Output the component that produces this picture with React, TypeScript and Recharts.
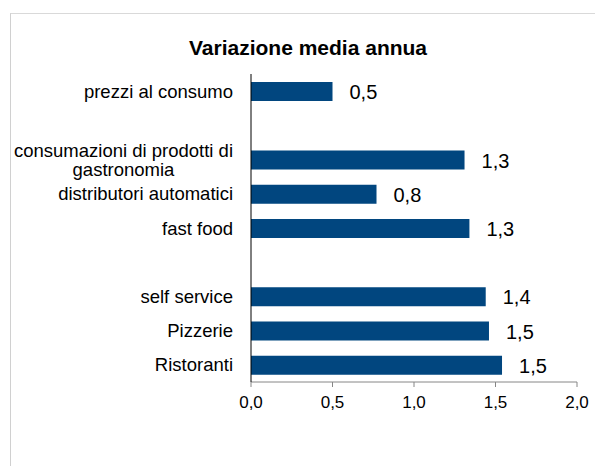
import React from 'react';
import { BarChart, Bar, XAxis, YAxis, LabelList } from 'recharts';

const categories = [
  'prezzi al consumo',
  '',
  'consumazioni di prodotti di\ngastronomia',
  'distributori automatici',
  'fast food',
  ' ',
  'self service',
  'Pizzerie',
  'Ristoranti',
];
const values = [0.5, null, 1.31, 0.77, 1.34, null, 1.44, 1.46, 1.54];
const xTicks = [0, 0.5, 1, 1.5, 2];
const boundaryTicks = [0, 1, 2, 3, 4, 5, 6, 7, 8, 9];

const FONT = '"Liberation Sans", Arial, sans-serif';
const BAR_COLOR = '#01467f';
const CAT_SIZE = 18.5;

const data = categories.map((name, i) => ({ name, value: values[i] }));

const fmt = (v: number) => v.toFixed(1).replace('.', ',');

let ctx: CanvasRenderingContext2D | null = null;
const measure = (s: string, size: number) => {
  if (!ctx) ctx = document.createElement('canvas').getContext('2d');
  if (!ctx) return s.length * size * 0.5;
  ctx.font = `${size}px ${FONT}`;
  return ctx.measureText(s).width;
};

const CategoryTick = (props: any) => {
  const { x, y, payload } = props;
  const lines = String(payload.value).split('\n');
  if (lines.length === 1) {
    return (
      <text x={x} y={y} dy="0.355em" textAnchor="end" fontSize={CAT_SIZE} fontFamily={FONT} fill="#000">
        {lines[0]}
      </text>
    );
  }
  // multi-line labels: block right aligned, lines centred
  const w = Math.max(...lines.map((l) => measure(l, CAT_SIZE)));
  const cx = x - w / 2;
  const lh = 19;
  const start = y - ((lines.length - 1) * lh) / 2;
  return (
    <text textAnchor="middle" fontSize={CAT_SIZE} fontFamily={FONT} fill="#000">
      {lines.map((l, i) => (
        <tspan key={i} x={cx} y={start + i * lh} dy="0.355em">
          {l}
        </tspan>
      ))}
    </text>
  );
};

const XTick = (props: any) => {
  const { x, y, payload } = props;
  return (
    <text x={x} y={y} dy="0.71em" textAnchor="middle" fontSize={17} fontFamily={FONT} fill="#000">
      {fmt(payload.value)}
    </text>
  );
};

const ValueLabel = (props: any) => {
  const { x, y, width, height, value } = props;
  if (value == null) return null;
  return (
    <text x={x + width + 17} y={y + height / 2} dy="0.38em" fontSize={20} fontFamily={FONT} fill="#000">
      {fmt(value)}
    </text>
  );
};

export default function App() {
  // fixed so the chart can reach the right edge of the window
  return (
    <div style={{ position: 'fixed', left: 8, top: 8, width: 587, height: 458, fontFamily: FONT, background: '#fff' }}>
      <div
        style={{
          position: 'absolute',
          left: 2,
          top: 5,
          width: 585,
          height: 453,
          boxSizing: 'border-box',
          borderTop: '1px solid #d9d9d9',
          borderLeft: '1px solid #d0d0d0',
        }}
      />
      <div
        style={{
          position: 'absolute',
          left: 16,
          top: 30,
          width: 568,
          textAlign: 'center',
          fontSize: 21,
          lineHeight: '20px',
          fontWeight: 'bold',
          color: '#000',
        }}
      >
        Variazione media annua
      </div>
      <BarChart
        width={587}
        height={458}
        data={data}
        layout="vertical"
        margin={{ top: 66, right: 18, bottom: 54, left: 0 }}
        style={{ position: 'absolute', left: 0, top: 0 }}
      >
        <XAxis
          type="number"
          domain={[0, 2]}
          ticks={xTicks}
          height={30}
          tickSize={5}
          tickMargin={9}
          axisLine={{ stroke: '#868686' }}
          tickLine={{ stroke: '#868686' }}
          tick={<XTick />}
        />
        <YAxis
          yAxisId="bounds"
          type="number"
          domain={[0, 9]}
          ticks={boundaryTicks}
          width={1}
          tick={false}
          tickSize={5}
          axisLine={{ stroke: '#000' }}
          tickLine={{ stroke: '#000' }}
        />
        <YAxis
          yAxisId="cat"
          type="category"
          dataKey="name"
          width={242}
          axisLine={false}
          tickLine={false}
          tickSize={0}
          tickMargin={17}
          interval={0}
          tick={<CategoryTick />}
        />
        <Bar dataKey="value" yAxisId="cat" fill={BAR_COLOR} barSize={19} isAnimationActive={false}>
          <LabelList dataKey="value" content={<ValueLabel />} />
        </Bar>
      </BarChart>
    </div>
  );
}
